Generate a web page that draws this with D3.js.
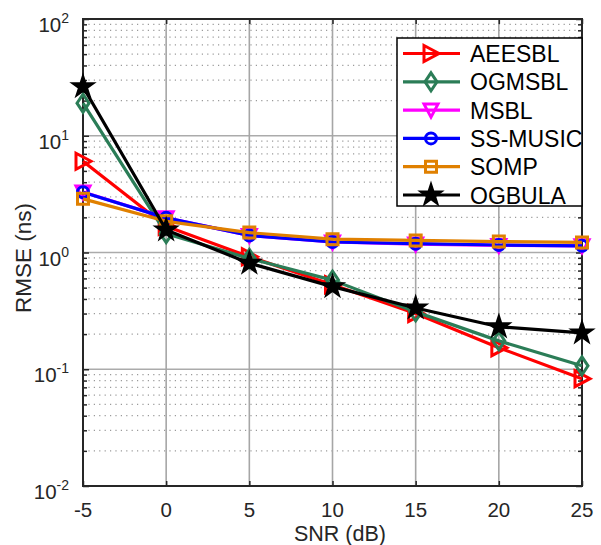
<!DOCTYPE html>
<html>
<head>
<meta charset="utf-8">
<script src="https://cdn.jsdelivr.net/npm/d3@7"></script>
<style>
  html, body { margin: 0; padding: 0; background: #fff; }
  svg { display: block; font-family: "Liberation Sans", Arial, sans-serif; }
</style>
</head>
<body>
<svg id="chart" width="601" height="545"></svg>
<script>
// SNR sweep (dB) and RMSE (ns) of each estimator
const snr = [-5, 0, 5, 10, 15, 20, 25];
const aeesbl  = [6.05, 1.68, 0.92, 0.53, 0.300, 0.153, 0.083];
const ogmsbl  = [19.0, 1.45, 0.89, 0.58, 0.310, 0.175, 0.107];
const msbl    = [3.30, 1.98, 1.40, 1.23, 1.18, 1.15, 1.14];
const ssmusic = [3.28, 1.98, 1.40, 1.23, 1.19, 1.16, 1.14];
const somp    = [2.88, 1.85, 1.48, 1.30, 1.27, 1.24, 1.22];
const ogbula  = [26.3, 1.56, 0.81, 0.51, 0.335, 0.231, 0.205];

const seriesNames = ["AEESBL", "OGMSBL", "MSBL", "SS-MUSIC", "SOMP", "OGBULA"];
const seriesValues = [aeesbl, ogmsbl, msbl, ssmusic, somp, ogbula];
const seriesColors = ["#ff0000", "#2b7d57", "#ff00ff", "#0000ff", "#e08000", "#000000"];
const seriesMarkers = ["triRight", "diamond", "triDown", "circle", "square", "star"];

const xTicks = [-5, 0, 5, 10, 15, 20, 25];
const yDecades = [-2, -1, 0, 1, 2];

const svg = d3.select("#chart");
const plotL = 83, plotR = 582, plotT = 19, plotB = 486;

const x = d3.scaleLinear().domain([-5, 25]).range([plotL, plotR]);
const y = d3.scaleLog().domain([0.01, 100]).range([plotB, plotT]);

// minor grid (dotted) at 2..9 within each decade
const minorVals = [];
for (let e = -2; e < 2; e++) for (let k = 2; k <= 9; k++) minorVals.push(k * Math.pow(10, e));

const grid = svg.append("g");
grid.selectAll("line.minor").data(minorVals).join("line")
  .attr("x1", plotL).attr("x2", plotR)
  .attr("y1", d => y(d)).attr("y2", d => y(d))
  .attr("stroke", "#9a9a9a").attr("stroke-width", 1.2)
  .attr("stroke-dasharray", "1.2,4.2");
grid.selectAll("line.majY").data(yDecades.slice(1, -1)).join("line")
  .attr("x1", plotL).attr("x2", plotR)
  .attr("y1", d => y(Math.pow(10, d))).attr("y2", d => y(Math.pow(10, d)))
  .attr("stroke", "#ababab").attr("stroke-width", 1.6);
grid.selectAll("line.majX").data(xTicks.slice(1, -1)).join("line")
  .attr("x1", d => x(d)).attr("x2", d => x(d))
  .attr("y1", plotT).attr("y2", plotB)
  .attr("stroke", "#a6a6a6").attr("stroke-width", 1.6);

// axes with inward ticks on all four sides
const tickStyle = g => {
  g.select(".domain").remove();
  g.selectAll(".tick line").attr("stroke", "#262626").attr("stroke-width", 1.5);
  g.selectAll("text").remove();
};
svg.append("g").attr("transform", `translate(0,${plotB})`)
  .call(d3.axisBottom(x).tickValues(xTicks).tickSize(-5)).call(tickStyle);
svg.append("g").attr("transform", `translate(0,${plotT})`)
  .call(d3.axisTop(x).tickValues(xTicks).tickSize(-5)).call(tickStyle);
const majorY = yDecades.map(e => Math.pow(10, e));
svg.append("g").attr("transform", `translate(${plotL},0)`)
  .call(d3.axisLeft(y).tickValues(majorY).tickSize(-6)).call(tickStyle);
svg.append("g").attr("transform", `translate(${plotL},0)`)
  .call(d3.axisLeft(y).tickValues(minorVals).tickSize(-4)).call(tickStyle);
svg.append("g").attr("transform", `translate(${plotR},0)`)
  .call(d3.axisRight(y).tickValues(majorY).tickSize(-6)).call(tickStyle);
svg.append("g").attr("transform", `translate(${plotR},0)`)
  .call(d3.axisRight(y).tickValues(minorVals).tickSize(-4)).call(tickStyle);

// axis box
svg.append("rect").attr("x", plotL).attr("y", plotT)
  .attr("width", plotR - plotL).attr("height", plotB - plotT)
  .attr("fill", "none").attr("stroke", "#262626").attr("stroke-width", 2);

// tick labels
svg.append("g").selectAll("text").data(xTicks).join("text")
  .attr("x", d => x(d)).attr("y", 517)
  .attr("text-anchor", "middle").attr("font-size", 20.5).attr("fill", "#262626")
  .text(d => d);
const yl = svg.append("g").selectAll("text").data(yDecades).join("text")
  .attr("x", 69).attr("y", d => y(Math.pow(10, d)) + 13)
  .attr("text-anchor", "end").attr("font-size", 20.5).attr("fill", "#262626");
yl.append("tspan").text("10");
yl.append("tspan").attr("dy", -9).attr("font-size", 14).text(d => d);

// axis titles
svg.append("text").attr("x", 340).attr("y", 540.5)
  .attr("text-anchor", "middle").attr("font-size", 21.5).attr("fill", "#262626")
  .text("SNR (dB)");
svg.append("text").attr("transform", "translate(31,258) rotate(-90)")
  .attr("text-anchor", "middle").attr("font-size", 22.5).attr("fill", "#262626")
  .text("RMSE (ns)");

// marker shapes
function markerPath(type) {
  switch (type) {
    case "triRight": return "M-7,-8L8,0L-7,8Z";
    case "triDown": return "M-7,-6L7,-6L0,7Z";
    case "diamond": return "M0,-9L6,0L0,9L-6,0Z";
    case "square": return "M-5.5,-5.5H5.5V5.5H-5.5Z";
    case "circle": return d3.symbol(d3.symbolCircle, 95)();
    case "star": return d3.symbol(d3.symbolStar, 140)();
  }
}
function drawMarker(g, type, color) {
  g.append("path").attr("d", markerPath(type))
    .attr("fill", type === "star" ? color : "none")
    .attr("stroke", color).attr("stroke-width", type === "star" ? 2 : 3)
    .attr("stroke-linejoin", "miter");
}

const line = d3.line().x((d, i) => x(snr[i])).y(d => y(d));
const plot = svg.append("g");
seriesValues.forEach((vals, s) => {
  const g = plot.append("g");
  g.append("path").datum(vals).attr("d", line)
    .attr("fill", "none").attr("stroke", seriesColors[s]).attr("stroke-width", 3.2)
    .attr("stroke-linejoin", "round");
  vals.forEach((v, i) => {
    const m = g.append("g").attr("transform", `translate(${x(snr[i])},${y(v)})`);
    drawMarker(m, seriesMarkers[s], seriesColors[s]);
  });
});

// legend
const lx = 397, ly = 38, lw = 185, lh = 168;
svg.append("defs").append("clipPath").attr("id", "legclip")
  .append("rect").attr("x", lx).attr("y", ly).attr("width", lw).attr("height", lh);
const leg = svg.append("g");
leg.append("rect").attr("x", lx).attr("y", ly).attr("width", lw).attr("height", lh)
  .attr("fill", "#fff").attr("stroke", "#000").attr("stroke-width", 1.5);
const legInner = leg.append("g").attr("clip-path", "url(#legclip)");
seriesNames.forEach((name, s) => {
  const ry = 53.5 + s * 28.3;
  const row = legInner.append("g");
  row.append("line").attr("x1", 403).attr("x2", 460).attr("y1", ry).attr("y2", ry)
    .attr("stroke", seriesColors[s]).attr("stroke-width", 3.2);
  const m = row.append("g").attr("transform", `translate(431,${ry})`);
  drawMarker(m, seriesMarkers[s], seriesColors[s]);
  row.append("text").attr("x", 470).attr("y", ry + 8.5)
    .attr("font-size", 23).attr("fill", "#000").text(name);
});
</script>
</body>
</html>
